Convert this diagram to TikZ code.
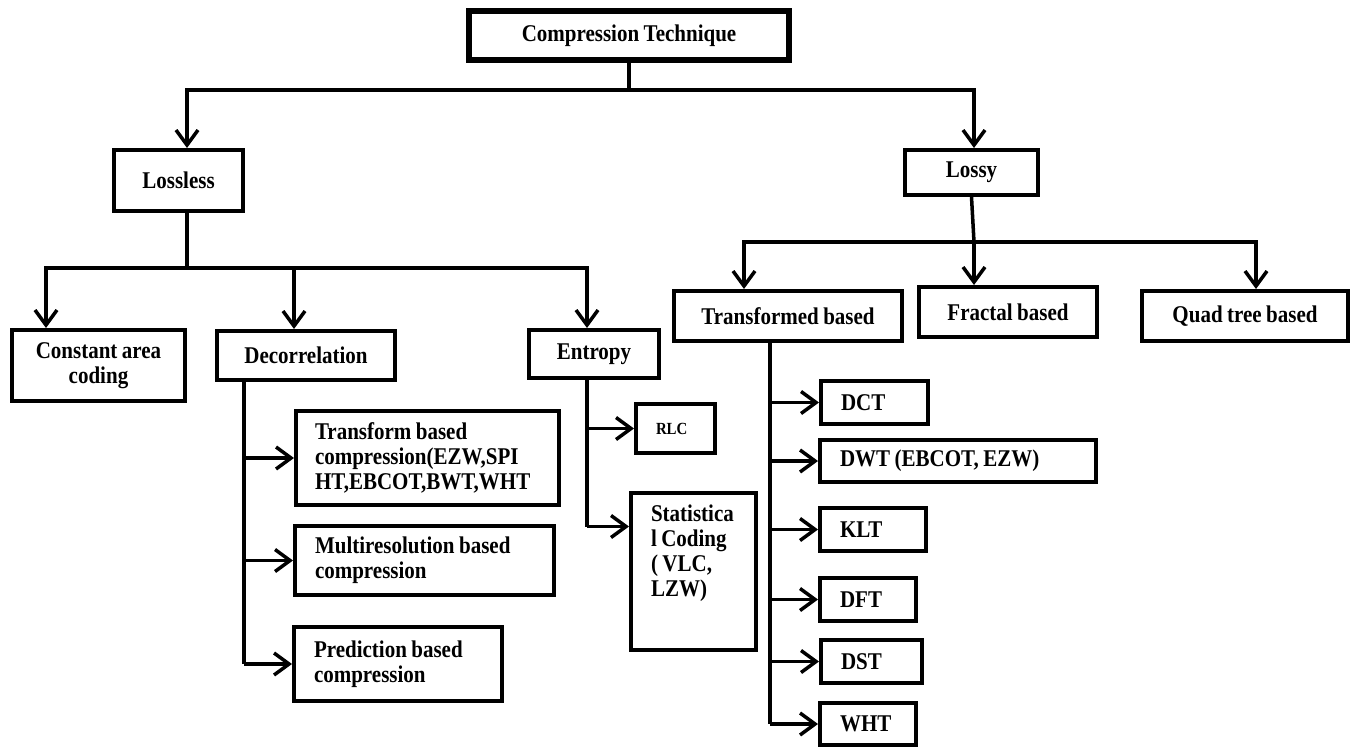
\documentclass[tikz,border=0pt]{standalone}
\usepackage{fontspec}
\setmainfont{Liberation Serif}[FakeStretch=0.875, WordSpace=0.85]
\usetikzlibrary{arrows.meta}

\begin{document}
\begin{tikzpicture}[x=1pt, y=-1pt,
    box/.style={draw, line width=4pt, inner sep=0pt, font=\bfseries\fontsize{24}{25}\selectfont},
    lbox/.style={box, align=flush left, inner xsep=20pt},
    leaf/.style={lbox, minimum height=43pt},
    conn/.style={line width=3.5pt},
    arr/.style={conn, -{Straight Barb[length=15pt,width=22pt]}}]
      \useasboundingbox (0,0) rectangle (1351,747);
      \node (root) at (629,35.5) [box, line width=6.5pt, minimum width=320pt, minimum height=49pt] {Compression Technique};
      \node (lossless) at (178.5,180.5) [box, minimum width=129pt, minimum height=61pt] {Lossless};
      \node (lossy) at (971.5,172.5) [box, minimum width=133pt, minimum height=45pt] {Lossy};
      \node (const) at (98.5,365.5) [box, align=center, minimum width=173pt, minimum height=71pt] {Constant area\\coding};
      \node (decor) at (306,355.5) [box, minimum width=178pt, minimum height=49pt] {Decorrelation};
      \node (entropy) at (594,354) [box, minimum width=130pt, minimum height=48pt] {Entropy};
      \node (transformed) at (788,316) [box, minimum width=228pt, minimum height=50pt] {Transformed based};
      \node (fractal) at (1008,312) [box, minimum width=178pt, minimum height=50pt] {Fractal based};
      \node (quad) at (1245,316) [box, minimum width=206pt, minimum height=50pt] {Quad tree based};
      \node (tbc) at (427.5,458) [lbox, inner xsep=19pt, text width=225pt, minimum height=94pt] {Transform based\\compression(EZW,SPI\\HT,EBCOT,BWT,WHT};
      \node (multi) at (424.5,560.5) [lbox, text width=219pt, minimum height=69pt] {Multiresolution based\\compression};
      \node (pred) at (398,664) [lbox, text width=168pt, minimum height=74pt] {Prediction based\\compression};
      \node (rlc) at (675.5,428.5) [lbox, text width=39pt, minimum height=49pt, font=\bfseries\fontsize{17}{19}\selectfont] {RLC};
      \node (stat) at (693.5,571.5) [box, inner xsep=20pt, inner ysep=12pt] {\parbox[c][133pt][t]{85pt}{\raggedright Statistica\\l Coding\\( VLC,\\LZW)}};
      \node (dct) at (874.5,402.5) [leaf, text width=67pt] {DCT};
      \node (dwt) at (958,461) [leaf, text width=236pt, minimum height=42pt] {DWT (EBCOT, EZW)};
      \node (klt) at (873,529.5) [leaf, text width=66pt] {KLT};
      \node (dft) at (868,599.5) [leaf, text width=56pt] {DFT};
      \node (dst) at (871.5,661.5) [leaf, text width=61pt] {DST};
      \node (wht) at (868,724) [leaf, text width=56pt, minimum height=42pt] {WHT};
      % top level
      \coordinate (j0) at (629,90);
      \draw[conn] (root.south) -- (j0);
      \draw[arr] (j0) -| ([xshift=8.5pt]lossless.north);
      \draw[arr] (j0) -| ([xshift=2.5pt]lossy.north);
      % lossless branch
      \coordinate (j1) at (187,268);
      \draw[conn] ([xshift=8.5pt]lossless.south) -- (j1);
      \draw[arr] (j1) -| ([xshift=-52.5pt]const.north);
      \draw[arr] (j1) -| ([xshift=-12pt]decor.north);
      \draw[arr] (j1) -| ([xshift=-7pt]entropy.north);
      % lossy branch
      \coordinate (j2) at (974,242);
      \draw[conn] (lossy.south) -- (j2);
      \draw[arr] (j2) -| ([xshift=-44pt]transformed.north);
      \draw[arr] (j2) -- ([xshift=-34pt]fractal.north);
      \draw[arr] (j2) -| ([xshift=11pt]quad.north);
      % decorrelation
      \coordinate (d0) at ([xshift=-62pt]decor.south);
      \draw[conn] (d0) -- (d0 |- pred.west);
      \draw[arr] (d0 |- tbc.west) -- (tbc.west);
      \draw[arr] (d0 |- multi.west) -- (multi.west);
      \draw[arr] (d0 |- pred.west) -- (pred.west);
      % entropy
      \coordinate (e0) at ([xshift=-7pt]entropy.south);
      \coordinate (sin) at ([yshift=45pt]stat.west);
      \draw[conn] (e0) -- (e0 |- sin);
      \draw[arr] (e0 |- rlc.west) -- (rlc.west);
      \draw[arr] (e0 |- sin) -- (sin);
      % transformed based
      \coordinate (t0) at ([xshift=-18pt]transformed.south);
      \draw[conn] (t0) -- (t0 |- wht.west);
      \draw[arr] (t0 |- dct.west) -- (dct.west);
      \draw[arr] (t0 |- dwt.west) -- (dwt.west);
      \draw[arr] (t0 |- klt.west) -- (klt.west);
      \draw[arr] (t0 |- dft.west) -- (dft.west);
      \draw[arr] (t0 |- dst.west) -- (dst.west);
      \draw[arr] (t0 |- wht.west) -- (wht.west);
\end{tikzpicture}
\end{document}
